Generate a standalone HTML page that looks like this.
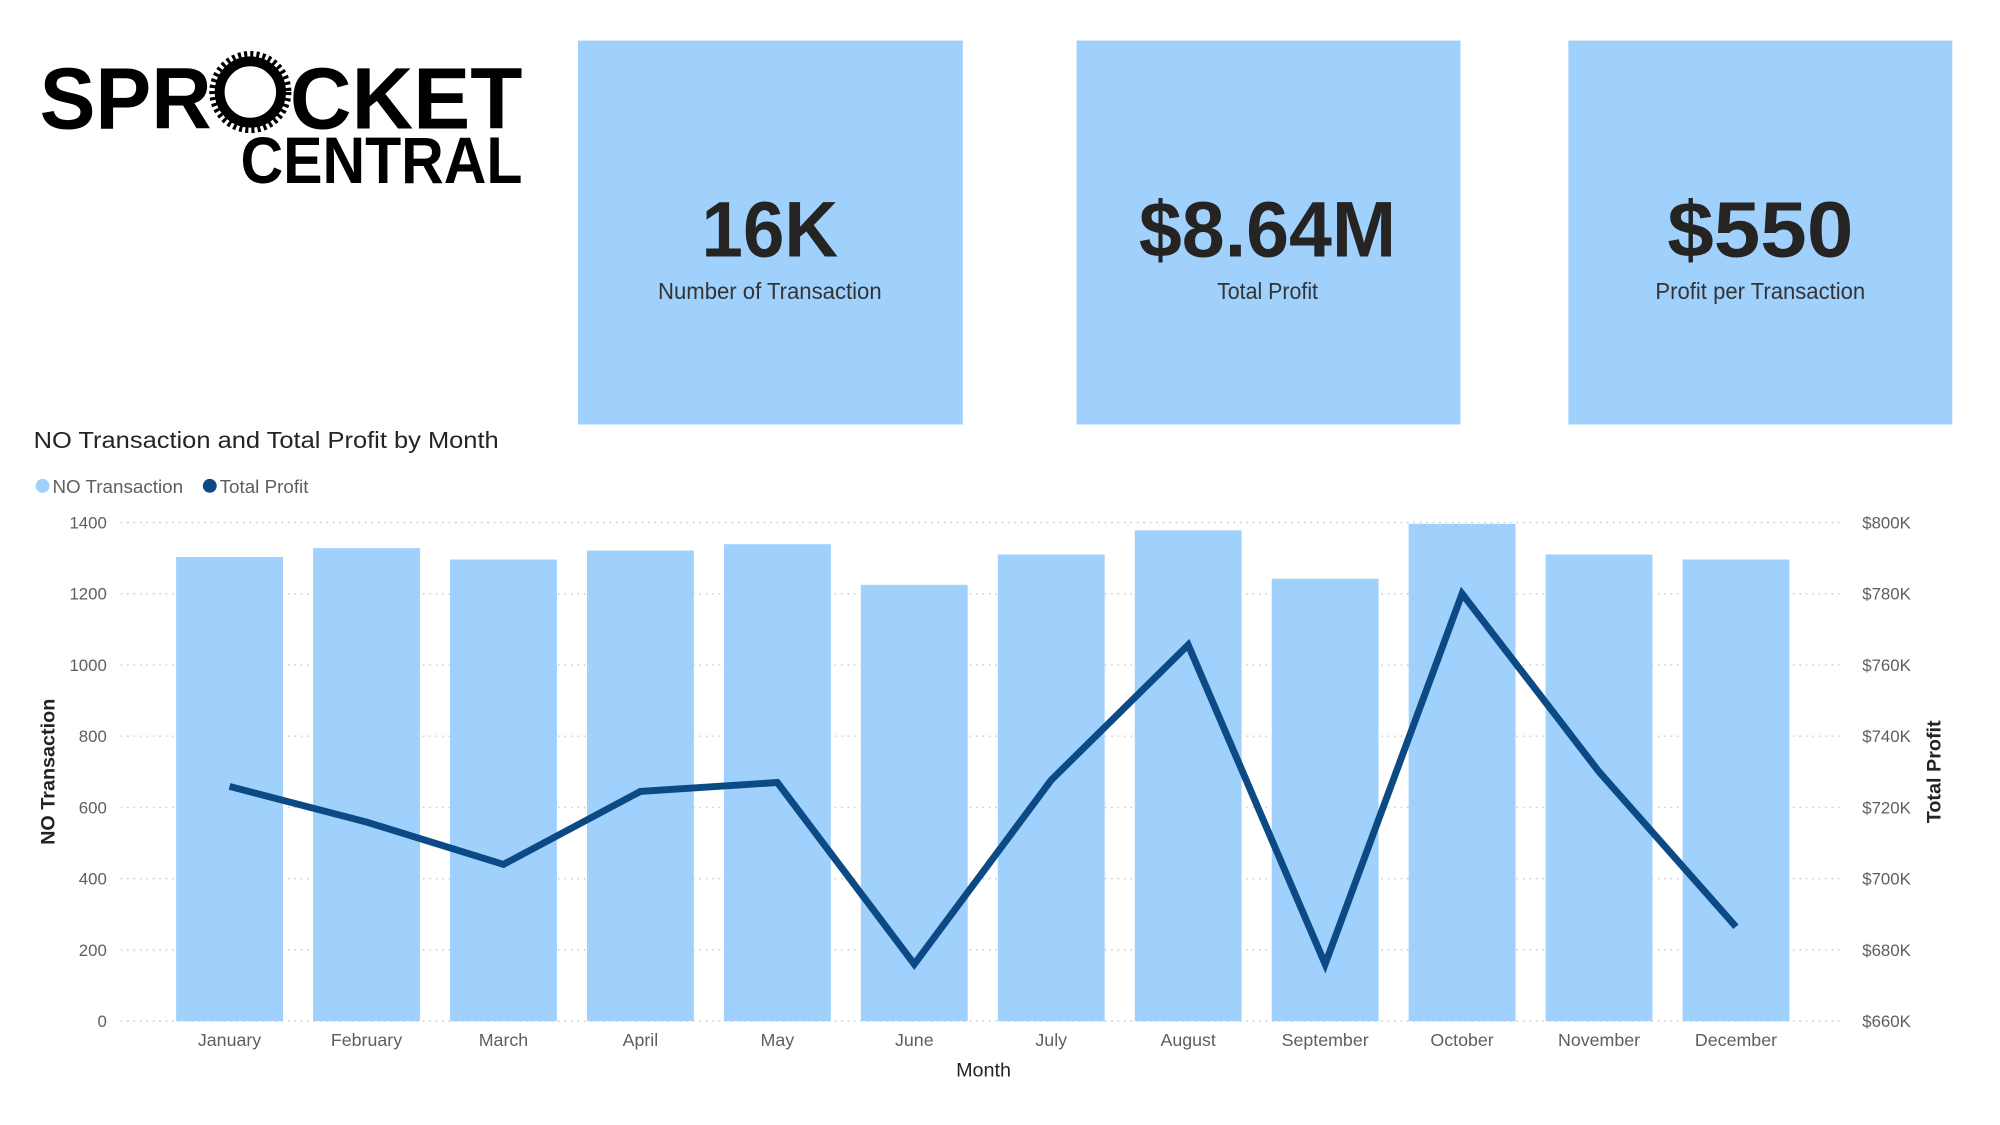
<!DOCTYPE html>
<html><head><meta charset="utf-8"><style>
html,body{margin:0;padding:0;background:#fff;}
svg{display:block;font-family:"Liberation Sans",sans-serif;}
</style></head><body>
<svg id="page" width="2000" height="1125" viewBox="0 0 2000 1125" xmlns="http://www.w3.org/2000/svg">
 <g transform="scale(0.9895)">
  <g>
    <text x="40" y="130" font-size="88" font-weight="bold" textLength="174" lengthAdjust="spacingAndGlyphs" fill="#000">SPR</text>
    <g>
      <circle cx="253" cy="93" r="37" fill="none" stroke="#000" stroke-width="9" stroke-dasharray="3 3"/>
      <circle cx="253" cy="93" r="31" fill="none" stroke="#000" stroke-width="10"/>
      <circle cx="253" cy="93" r="20" fill="#fff"/>
    </g>
    <text x="293" y="130" font-size="88" font-weight="bold" textLength="235" lengthAdjust="spacingAndGlyphs" fill="#000">CKET</text>
    <text x="243" y="185" font-size="67" font-weight="bold" textLength="285" lengthAdjust="spacingAndGlyphs" fill="#000">CENTRAL</text>
  </g>

  <g>
    <rect x="584" y="41" width="389" height="388" fill="#a0d1fd"/>
    <text x="778" y="259" font-size="80" font-weight="bold" text-anchor="middle" fill="#252423" textLength="138" lengthAdjust="spacingAndGlyphs">16K</text>
    <text x="778" y="302" font-size="23" text-anchor="middle" fill="#333" textLength="226" lengthAdjust="spacingAndGlyphs">Number of Transaction</text>
  </g>
  <g>
    <rect x="1088" y="41" width="388" height="388" fill="#a0d1fd"/>
    <text x="1281" y="259" font-size="80" font-weight="bold" text-anchor="middle" fill="#252423" textLength="260" lengthAdjust="spacingAndGlyphs">$8.64M</text>
    <text x="1281" y="302" font-size="23" text-anchor="middle" fill="#333" textLength="102" lengthAdjust="spacingAndGlyphs">Total Profit</text>
  </g>
  <g>
    <rect x="1585" y="41" width="388" height="388" fill="#a0d1fd"/>
    <text x="1779" y="259" font-size="80" font-weight="bold" text-anchor="middle" fill="#252423" textLength="188" lengthAdjust="spacingAndGlyphs">$550</text>
    <text x="1779" y="302" font-size="23" text-anchor="middle" fill="#333" textLength="212" lengthAdjust="spacingAndGlyphs">Profit per Transaction</text>
  </g>

  <text x="34" y="453" font-size="23" fill="#252423" textLength="470" lengthAdjust="spacingAndGlyphs">NO Transaction and Total Profit by Month</text>
  <g>
    <g>
      <circle cx="43" cy="491" r="7" fill="#a0d1fd"/>
      <text x="53" y="498" font-size="19" fill="#605e5c">NO Transaction</text>
    </g>
    <g>
      <circle cx="212" cy="491" r="7" fill="#0b4a85"/>
      <text x="222" y="498" font-size="19" fill="#605e5c">Total Profit</text>
    </g>
  </g>
  <g id="chart"></g>
 </g>
</svg>
<script>
const months = ["January","February","March","April","May","June","July","August","September","October","November","December"];
const transactions = [1303,1328,1296,1321,1339,1225,1310,1378,1242,1396,1310,1296];
const profit = [725900,715900,704000,724500,727000,676000,727700,765600,676000,780000,730000,686500];
const leftTicks = [0,200,400,600,800,1000,1200,1400];
const rightTicks = [660000,680000,700000,720000,740000,760000,780000,800000];
const rightTickLabels = ["$660K","$680K","$700K","$720K","$740K","$760K","$780K","$800K"];

const NS = "http://www.w3.org/2000/svg";
const g = document.getElementById('chart');
const plotL = 122, plotR = 1863, yTop = 528, yBot = 1032;
const firstX = 232, pitch = 138.4, barW = 108;
const yL = v => yBot - (v - 0) / 1400 * (yBot - yTop);
const yR = v => yBot - (v - 660000) / 140000 * (yBot - yTop);
const xC = i => firstX + i * pitch;
function mk(tag, attrs, text){
  const e = document.createElementNS(NS, tag);
  for (const k in attrs) e.setAttribute(k, attrs[k]);
  if (text !== undefined) e.textContent = text;
  g.appendChild(e);
  return e;
}
leftTicks.forEach((t, i) => {
  const y = yL(t);
  const gl = mk('line', {x1: plotL, x2: plotR, y1: y, y2: y, stroke: '#c8c8c8', 'stroke-width': 1.5, 'stroke-dasharray': '1.5 5'});
  
  
  const lt = mk('text', {x: 108, y: y + 6, 'font-size': 17, fill: '#605e5c', 'text-anchor': 'end'}, String(t));
  
  
});
rightTicks.forEach((t, i) => {
  const rt = mk('text', {x: 1882, y: yR(t) + 6, 'font-size': 17, fill: '#605e5c'}, rightTickLabels[i]);
  
  
});
transactions.forEach((v, i) => {
  const b = mk('rect', {x: xC(i) - barW / 2, y: yL(v), width: barW, height: yBot - yL(v), fill: '#a0d1fd'});
  
  
  const ml = mk('text', {x: xC(i), y: 1057, 'font-size': 18, fill: '#605e5c', 'text-anchor': 'middle'}, months[i]);
  
  
});
const pts = profit.map((v, i) => xC(i).toFixed(1) + ',' + yR(v).toFixed(1)).join(' ');
const line = mk('polyline', {points: pts, fill: 'none', stroke: '#0b4a85', 'stroke-width': 7, 'stroke-linejoin': 'miter', 'stroke-miterlimit': 10});


const xt = mk('text', {x: 994, y: 1088, 'font-size': 20, fill: '#252423', 'text-anchor': 'middle'}, 'Month');


const ylt = mk('text', {x: 0, y: 0, 'font-size': 20, fill: '#252423', 'text-anchor': 'middle', 'font-weight': 'bold', transform: 'translate(55,780) rotate(-90)'}, 'NO Transaction');


const yrt = mk('text', {x: 0, y: 0, 'font-size': 20, fill: '#252423', 'text-anchor': 'middle', 'font-weight': 'bold', transform: 'translate(1961,780) rotate(-90)'}, 'Total Profit');


</script>
</body></html>
